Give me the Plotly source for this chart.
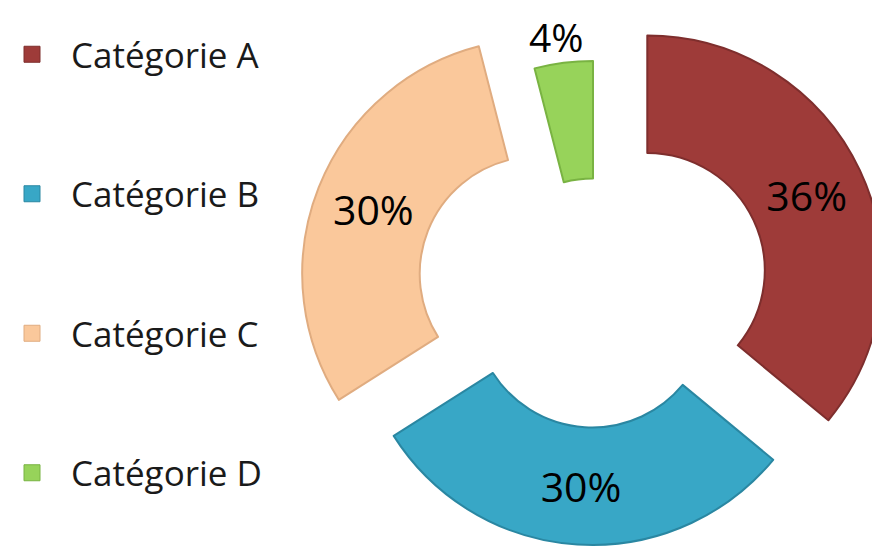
import math
import plotly.graph_objects as go

# ---- data ----
categories = ["Catégorie A", "Catégorie B", "Catégorie C", "Catégorie D"]
values = [36, 30, 30, 4]

# ---- style / layout ----
colors = ["#9E3B39", "#38A7C6", "#FAC89B", "#97D35A"]
edge_colors = ["#7E2E2D", "#2A87A2", "#E0AC80", "#79B342"]
explode_px = [60, 14, 60, 0]          # how far each slice is pulled out
inside_label = [True, True, True, False]
outside_label_dx = -7                 # px from the outer-edge midpoint of the slice

W, H = 880, 549
base_cx, base_cy = 585, 288
R = 235
HOLE = 0.5
FONT = "Open Sans"

fig = go.Figure()
total = sum(values)
cum = 0
annotations = []
for i, (cat, v) in enumerate(zip(categories, values)):
    mid = 2 * math.pi * (cum + v / 2) / total
    cum += v
    cx = base_cx + explode_px[i] * math.sin(mid)
    cy = base_cy - explode_px[i] * math.cos(mid)
    dx = [max(0, (cx - R) / W), min(1, (cx + R) / W)]
    dy = [max(0, 1 - (cy + R) / H), min(1, 1 - (cy - R) / H)]
    slice_colors = [colors[j] if j == i else "rgba(0,0,0,0)" for j in range(len(values))]
    line_colors = [edge_colors[j] if j == i else "rgba(0,0,0,0)" for j in range(len(values))]
    templ = ["%{percent:.0%}" if (j == i and inside_label[j]) else "" for j in range(len(values))]
    tpos = ["inside" if (j == i and inside_label[j]) else "none" for j in range(len(values))]
    fig.add_trace(go.Pie(
        labels=categories, values=values, hole=HOLE, sort=False,
        direction="clockwise", rotation=0,
        marker=dict(colors=slice_colors, line=dict(color=line_colors, width=2)),
        texttemplate=templ, textposition=tpos,
        insidetextorientation="horizontal",
        textfont=dict(family=FONT, size=41, color="#000000"),
        domain=dict(x=dx, y=dy), showlegend=False, hoverinfo="label+percent",
    ))
    if not inside_label[i]:
        lx = cx + R * math.sin(mid) + outside_label_dx
        annotations.append(dict(
            x=lx / W, y=1, xref="paper", yref="paper",
            text=f"{round(100 * v / total)}%", showarrow=False,
            font=dict(family=FONT, size=39, color="#000000"),
            xanchor="center", yanchor="top"))

# legend entries
for i, cat in enumerate(categories):
    fig.add_trace(go.Scatter(
        x=[None], y=[None], mode="markers", name=cat, legendgroup=cat,
        marker=dict(symbol="square", size=22, color=colors[i],
                    line=dict(color=edge_colors[i], width=1)),
        showlegend=True,
    ))

fig.update_layout(
    width=W, height=H,
    margin=dict(l=0, r=0, t=0, b=0),
    paper_bgcolor="white", plot_bgcolor="white",
    xaxis=dict(visible=False), yaxis=dict(visible=False),
    showlegend=True,
    annotations=annotations,
    legend=dict(x=0, y=1 - 17 / H, xanchor="left", yanchor="top",
                font=dict(family=FONT, size=35, color="#1a1a1a"),
                tracegroupgap=91, itemwidth=68, indentation=-15,
                bgcolor="rgba(0,0,0,0)"),
)

fig.write_html("out.html")
